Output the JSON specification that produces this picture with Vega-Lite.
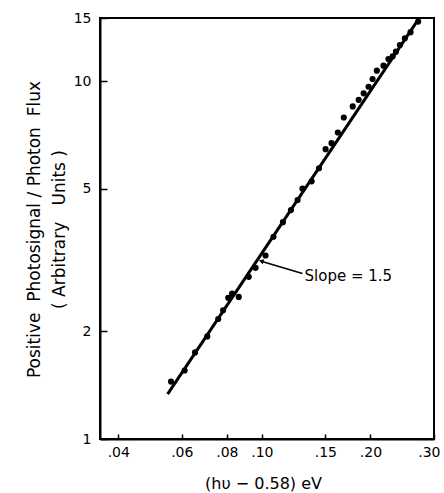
{
  "$schema": "https://vega.github.io/schema/vega-lite/v6.json",
  "width": 334,
  "height": 421,
  "autosize": {"type": "none"},
  "padding": {"left": 100, "top": 18, "right": 10, "bottom": 54},
  "background": "white",
  "config": {
    "view": {"stroke": "black", "strokeWidth": 2},
    "axis": {
      "grid": false,
      "domainColor": "black",
      "domainWidth": 2,
      "tickColor": "black",
      "tickWidth": 1.5,
      "labelFont": "DejaVu Sans",
      "labelFontSize": 14,
      "labelColor": "black",
      "titleFont": "DejaVu Sans",
      "titleFontSize": 16,
      "titleFontWeight": "normal",
      "titleColor": "black"
    }
  },
  "datasets": {
    "points": [
      {"x": 0.0560, "y": 1.447},
      {"x": 0.0611, "y": 1.554},
      {"x": 0.0653, "y": 1.745},
      {"x": 0.0706, "y": 1.935},
      {"x": 0.0757, "y": 2.164},
      {"x": 0.0781, "y": 2.288},
      {"x": 0.0807, "y": 2.479},
      {"x": 0.0827, "y": 2.548},
      {"x": 0.0863, "y": 2.494},
      {"x": 0.0920, "y": 2.838},
      {"x": 0.0961, "y": 3.007},
      {"x": 0.1024, "y": 3.255},
      {"x": 0.1077, "y": 3.673},
      {"x": 0.1144, "y": 4.035},
      {"x": 0.1204, "y": 4.361},
      {"x": 0.1256, "y": 4.651},
      {"x": 0.1296, "y": 5.005},
      {"x": 0.1374, "y": 5.247},
      {"x": 0.1440, "y": 5.705},
      {"x": 0.1502, "y": 6.450},
      {"x": 0.1560, "y": 6.705},
      {"x": 0.1624, "y": 7.182},
      {"x": 0.1687, "y": 7.911},
      {"x": 0.1786, "y": 8.495},
      {"x": 0.1855, "y": 8.863},
      {"x": 0.1915, "y": 9.238},
      {"x": 0.1976, "y": 9.638},
      {"x": 0.2027, "y": 10.13},
      {"x": 0.2083, "y": 10.69},
      {"x": 0.2173, "y": 11.04},
      {"x": 0.2243, "y": 11.52},
      {"x": 0.2305, "y": 11.73},
      {"x": 0.2353, "y": 12.08},
      {"x": 0.2413, "y": 12.61},
      {"x": 0.2491, "y": 13.17},
      {"x": 0.2583, "y": 13.69},
      {"x": 0.2712, "y": 14.66}
    ],
    "fit": [
      {"x": 0.0548, "y": 1.334},
      {"x": 0.2729, "y": 14.98}
    ],
    "arrow": [
      {"x": 0.0996, "y": 3.139, "x2": 0.1296, "y2": 2.899}
    ],
    "label": [
      {"x": 0.1313, "y": 2.862, "text": "Slope = 1.5"}
    ]
  },
  "layer": [
    {
      "data": {"name": "fit"},
      "mark": {"type": "line", "color": "black", "strokeWidth": 3},
      "encoding": {
        "x": {
          "field": "x", "type": "quantitative",
          "scale": {"type": "log", "domain": [0.0356, 0.30], "nice": false},
          "axis": {
            "title": "(hυ − 0.58) eV",
            "values": [0.04, 0.06, 0.08, 0.1, 0.15, 0.2, 0.3],
            "labelExpr": "replace(format(datum.value, '.2f'), '0.', '.')",
            "labelFlush": true,
            "labelFlushOffset": 6,
            "labelOverlap": false,
            "tickSize": -5,
            "labelPadding": 11,
            "titleX": 163,
            "titleY": 44,
            "titleBaseline": "middle",
            "titleAlign": "center"
          }
        },
        "y": {
          "field": "y", "type": "quantitative",
          "scale": {"type": "log", "domain": [1, 15], "nice": false},
          "axis": {
            "title": ["Positive\u00a0\u00a0Photosignal\u00a0/\u00a0Photon\u00a0\u00a0Flux", "(\u00a0Arbitrary\u00a0\u00a0\u00a0Units\u00a0)"],
            "values": [1, 2, 5, 10, 15],
            "labelOverlap": false,
            "labelFlush": false,
            "tickSize": -7,
            "labelPadding": 16,
            "titleAngle": -90,
            "titleFontSize": 17,
            "titleX": -66,
            "titleY": 211,
            "titleBaseline": "middle",
            "titleAlign": "center",
            "titleLineHeight": 25
          }
        }
      }
    },
    {
      "data": {"name": "points"},
      "mark": {"type": "point", "filled": true, "color": "black", "size": 38, "opacity": 1},
      "encoding": {
        "x": {"field": "x", "type": "quantitative"},
        "y": {"field": "y", "type": "quantitative"}
      }
    },
    {
      "data": {"name": "arrow"},
      "mark": {"type": "rule", "color": "black", "strokeWidth": 1.5},
      "encoding": {
        "x": {"field": "x", "type": "quantitative"},
        "y": {"field": "y", "type": "quantitative"},
        "x2": {"field": "x2"},
        "y2": {"field": "y2"}
      }
    },
    {
      "data": {"name": "arrow"},
      "mark": {"type": "point", "shape": "triangle-left", "filled": true, "color": "black", "size": 28, "angle": 16, "opacity": 1},
      "encoding": {
        "x": {"field": "x", "type": "quantitative"},
        "y": {"field": "y", "type": "quantitative"}
      }
    },
    {
      "data": {"name": "label"},
      "mark": {"type": "text", "align": "left", "baseline": "middle", "font": "DejaVu Sans", "fontSize": 15, "color": "black"},
      "encoding": {
        "x": {"field": "x", "type": "quantitative"},
        "y": {"field": "y", "type": "quantitative"},
        "text": {"field": "text"}
      }
    }
  ]
}
